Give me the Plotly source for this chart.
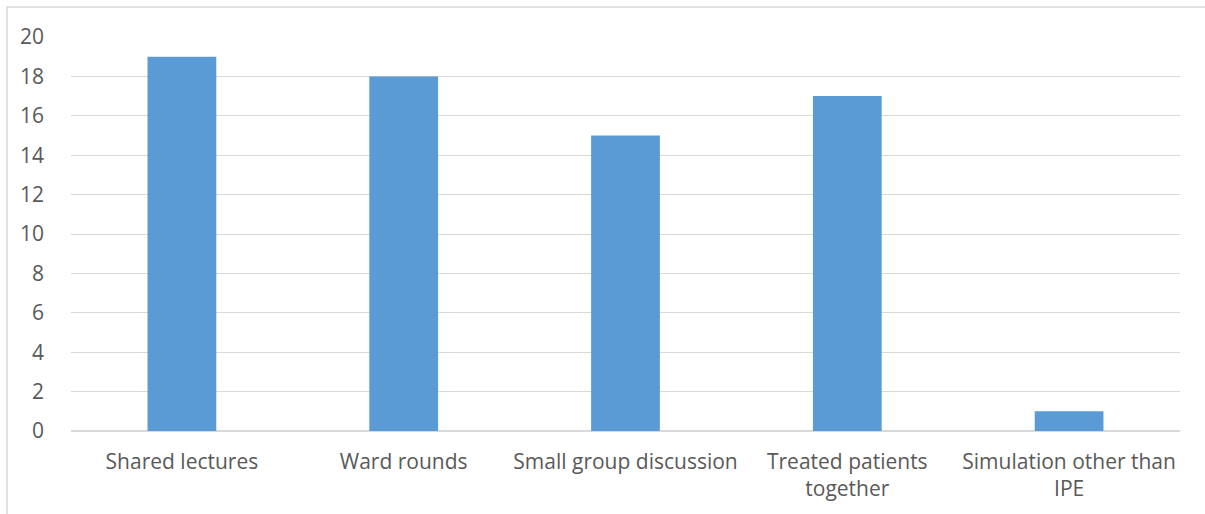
import plotly.graph_objects as go

categories = ["Shared lectures", "Ward rounds", "Small group discussion",
              "Treated patients<br>together", "Simulation other than<br>IPE"]
counts = [19, 18, 15, 17, 1]
y_ticks = [0, 2, 4, 6, 8, 10, 12, 14, 16, 18, 20]

W, H = 1205, 514
L, R, T, B = 71, 25, 37, 83
pw, ph = W - L - R, H - T - B

fig = go.Figure(go.Bar(x=categories, y=counts, marker_color="#5B9BD5",
                       marker_line_width=0, width=0.31))

# outer chart frame (left and top edges visible, others fall outside the page)
fx0 = (7 - L) / pw
fy1 = 1 + (T - 7) / ph
fig.add_shape(type="rect", xref="paper", yref="paper",
              x0=fx0, x1=1 + (R + 20) / pw, y0=-(B + 20) / ph, y1=fy1,
              line=dict(color="#D9D9D9", width=1.5), layer="below")

font = dict(family="Open Sans, Liberation Sans, sans-serif", size=21, color="#595959")
fig.update_layout(
    width=W, height=H,
    margin=dict(l=L, r=R, t=T, b=B),
    plot_bgcolor="white", paper_bgcolor="white",
    showlegend=False, font=font,
)
fig.update_xaxes(showgrid=False, showline=False, ticks="", tickfont=font,
                 ticklabelstandoff=16)
fig.update_yaxes(range=[0, 20], tickvals=y_ticks, showgrid=True, gridcolor="#D9D9D9",
                 gridwidth=1, zeroline=True, zerolinecolor="#D9D9D9", zerolinewidth=1.5,
                 ticks="", ticklabelstandoff=26, tickfont=font)

fig.write_html("out.html")
